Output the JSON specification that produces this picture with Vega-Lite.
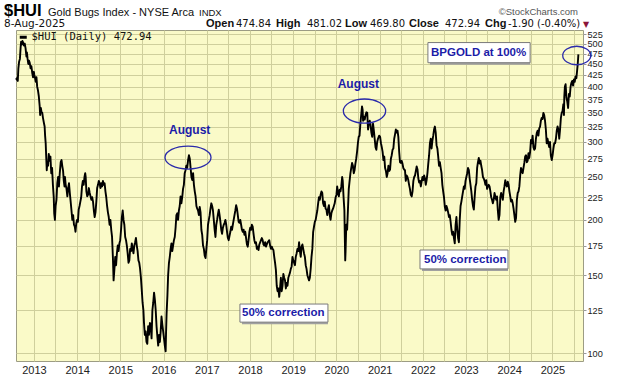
{
  "$schema": "https://vega.github.io/schema/vega-lite/v6.json",
  "autosize": "none",
  "width": 567,
  "height": 331,
  "padding": {"left": 16, "top": 30, "right": 37, "bottom": 15},
  "background": "white",
  "config": {
    "view": {"fill": "#FAFAC8", "stroke": "#9c9c84", "strokeWidth": 1},
    "font": "Liberation Sans"
  },
  "datasets": {
    "one": [{}],
    "hui": [
      {"date":"2012-08-03","close":418},{"date":"2012-08-08","close":415},{"date":"2012-08-13","close":419},{"date":"2012-08-17","close":412},{"date":"2012-08-22","close":440},{"date":"2012-08-28","close":455},{"date":"2012-09-04","close":462},{"date":"2012-09-10","close":490},{"date":"2012-09-14","close":505},{"date":"2012-09-20","close":498},{"date":"2012-09-26","close":507},{"date":"2012-10-02","close":503},{"date":"2012-10-08","close":495},{"date":"2012-10-15","close":500},{"date":"2012-10-22","close":488},{"date":"2012-10-29","close":468},{"date":"2012-11-02","close":478},{"date":"2012-11-08","close":462},{"date":"2012-11-14","close":450},{"date":"2012-11-20","close":458},{"date":"2012-11-26","close":453},{"date":"2012-12-03","close":440},{"date":"2012-12-10","close":445},{"date":"2012-12-17","close":430},{"date":"2012-12-24","close":420},{"date":"2012-12-31","close":432},
      {"date":"2013-01-04","close":425},{"date":"2013-01-10","close":418},{"date":"2013-01-16","close":410},{"date":"2013-01-22","close":420},{"date":"2013-01-28","close":400},{"date":"2013-02-04","close":392},{"date":"2013-02-11","close":380},{"date":"2013-02-18","close":362},{"date":"2013-02-22","close":345},{"date":"2013-02-28","close":358},{"date":"2013-03-06","close":350},{"date":"2013-03-12","close":349},{"date":"2013-03-18","close":340},{"date":"2013-03-25","close":332},{"date":"2013-04-01","close":325},{"date":"2013-04-05","close":310},{"date":"2013-04-10","close":298},{"date":"2013-04-15","close":275},{"date":"2013-04-19","close":259},{"date":"2013-04-24","close":270},{"date":"2013-04-30","close":265},{"date":"2013-05-06","close":282},{"date":"2013-05-13","close":272},{"date":"2013-05-20","close":278},{"date":"2013-05-27","close":255},{"date":"2013-06-03","close":262},{"date":"2013-06-10","close":240},{"date":"2013-06-17","close":225},{"date":"2013-06-21","close":207},{"date":"2013-06-27","close":200},{"date":"2013-07-03","close":215},{"date":"2013-07-10","close":222},{"date":"2013-07-17","close":242},{"date":"2013-07-24","close":250},{"date":"2013-07-31","close":238},{"date":"2013-08-07","close":255},{"date":"2013-08-15","close":270},{"date":"2013-08-22","close":273},{"date":"2013-08-28","close":265},{"date":"2013-09-04","close":258},{"date":"2013-09-10","close":245},{"date":"2013-09-16","close":238},{"date":"2013-09-20","close":250},{"date":"2013-09-26","close":240},{"date":"2013-10-03","close":235},{"date":"2013-10-10","close":226},{"date":"2013-10-17","close":236},{"date":"2013-10-24","close":242},{"date":"2013-10-31","close":230},{"date":"2013-11-07","close":220},{"date":"2013-11-14","close":210},{"date":"2013-11-21","close":200},{"date":"2013-11-28","close":205},{"date":"2013-12-05","close":195},{"date":"2013-12-12","close":193},{"date":"2013-12-18","close":188},{"date":"2013-12-24","close":196},{"date":"2013-12-31","close":200},
      {"date":"2014-01-07","close":198},{"date":"2014-01-14","close":211},{"date":"2014-01-21","close":215},{"date":"2014-01-28","close":220},{"date":"2014-02-04","close":225},{"date":"2014-02-11","close":238},{"date":"2014-02-18","close":245},{"date":"2014-02-25","close":240},{"date":"2014-03-04","close":250},{"date":"2014-03-10","close":255},{"date":"2014-03-14","close":250},{"date":"2014-03-20","close":232},{"date":"2014-03-27","close":226},{"date":"2014-04-03","close":228},{"date":"2014-04-10","close":236},{"date":"2014-04-17","close":230},{"date":"2014-04-24","close":226},{"date":"2014-05-01","close":222},{"date":"2014-05-08","close":225},{"date":"2014-05-15","close":220},{"date":"2014-05-22","close":210},{"date":"2014-05-29","close":203},{"date":"2014-06-05","close":208},{"date":"2014-06-12","close":220},{"date":"2014-06-19","close":236},{"date":"2014-06-26","close":240},{"date":"2014-07-03","close":245},{"date":"2014-07-10","close":242},{"date":"2014-07-17","close":236},{"date":"2014-07-24","close":242},{"date":"2014-07-31","close":238},{"date":"2014-08-07","close":245},{"date":"2014-08-14","close":240},{"date":"2014-08-21","close":242},{"date":"2014-08-28","close":232},{"date":"2014-09-04","close":225},{"date":"2014-09-11","close":215},{"date":"2014-09-18","close":208},{"date":"2014-09-25","close":203},{"date":"2014-10-02","close":195},{"date":"2014-10-09","close":200},{"date":"2014-10-16","close":190},{"date":"2014-10-23","close":183},{"date":"2014-10-30","close":165},{"date":"2014-11-05","close":146},{"date":"2014-11-12","close":155},{"date":"2014-11-19","close":165},{"date":"2014-11-26","close":158},{"date":"2014-12-03","close":168},{"date":"2014-12-10","close":175},{"date":"2014-12-17","close":170},{"date":"2014-12-24","close":177},{"date":"2014-12-31","close":180},
      {"date":"2015-01-07","close":190},{"date":"2015-01-14","close":203},{"date":"2015-01-21","close":210},{"date":"2015-01-28","close":200},{"date":"2015-02-04","close":195},{"date":"2015-02-11","close":183},{"date":"2015-02-18","close":180},{"date":"2015-02-25","close":175},{"date":"2015-03-04","close":168},{"date":"2015-03-11","close":160},{"date":"2015-03-18","close":162},{"date":"2015-03-25","close":172},{"date":"2015-04-01","close":170},{"date":"2015-04-08","close":177},{"date":"2015-04-15","close":172},{"date":"2015-04-22","close":168},{"date":"2015-04-29","close":175},{"date":"2015-05-06","close":178},{"date":"2015-05-13","close":182},{"date":"2015-05-20","close":175},{"date":"2015-05-27","close":170},{"date":"2015-06-03","close":162},{"date":"2015-06-10","close":160},{"date":"2015-06-17","close":155},{"date":"2015-06-24","close":148},{"date":"2015-07-01","close":139},{"date":"2015-07-08","close":130},{"date":"2015-07-15","close":125},{"date":"2015-07-20","close":117},{"date":"2015-07-27","close":110},{"date":"2015-08-03","close":112},{"date":"2015-08-10","close":106},{"date":"2015-08-17","close":105},{"date":"2015-08-24","close":115},{"date":"2015-08-31","close":110},{"date":"2015-09-08","close":117},{"date":"2015-09-15","close":115},{"date":"2015-09-22","close":108},{"date":"2015-09-29","close":125},{"date":"2015-10-06","close":130},{"date":"2015-10-13","close":137},{"date":"2015-10-20","close":132},{"date":"2015-10-27","close":125},{"date":"2015-11-03","close":115},{"date":"2015-11-10","close":109},{"date":"2015-11-17","close":104},{"date":"2015-11-24","close":110},{"date":"2015-12-01","close":106},{"date":"2015-12-08","close":112},{"date":"2015-12-15","close":121},{"date":"2015-12-22","close":116},{"date":"2015-12-29","close":112},
      {"date":"2016-01-05","close":108},{"date":"2016-01-12","close":104},{"date":"2016-01-19","close":101},{"date":"2016-01-22","close":110},{"date":"2016-01-27","close":123},{"date":"2016-02-03","close":135},{"date":"2016-02-09","close":150},{"date":"2016-02-16","close":160},{"date":"2016-02-23","close":165},{"date":"2016-03-01","close":172},{"date":"2016-03-08","close":177},{"date":"2016-03-15","close":170},{"date":"2016-03-22","close":175},{"date":"2016-03-29","close":180},{"date":"2016-04-05","close":183},{"date":"2016-04-12","close":192},{"date":"2016-04-19","close":205},{"date":"2016-04-26","close":207},{"date":"2016-05-03","close":200},{"date":"2016-05-10","close":210},{"date":"2016-05-17","close":215},{"date":"2016-05-24","close":226},{"date":"2016-05-31","close":218},{"date":"2016-06-07","close":225},{"date":"2016-06-14","close":235},{"date":"2016-06-21","close":240},{"date":"2016-06-28","close":255},{"date":"2016-07-05","close":259},{"date":"2016-07-12","close":265},{"date":"2016-07-19","close":262},{"date":"2016-07-26","close":272},{"date":"2016-08-03","close":280},{"date":"2016-08-10","close":275},{"date":"2016-08-17","close":262},{"date":"2016-08-24","close":250},{"date":"2016-08-31","close":246},{"date":"2016-09-07","close":255},{"date":"2016-09-14","close":240},{"date":"2016-09-21","close":232},{"date":"2016-09-28","close":226},{"date":"2016-10-05","close":215},{"date":"2016-10-12","close":212},{"date":"2016-10-19","close":210},{"date":"2016-10-26","close":205},{"date":"2016-11-02","close":214},{"date":"2016-11-09","close":208},{"date":"2016-11-16","close":190},{"date":"2016-11-23","close":185},{"date":"2016-11-30","close":175},{"date":"2016-12-07","close":172},{"date":"2016-12-14","close":166},{"date":"2016-12-21","close":164},{"date":"2016-12-28","close":172},
      {"date":"2017-01-04","close":180},{"date":"2017-01-11","close":195},{"date":"2017-01-18","close":200},{"date":"2017-01-25","close":205},{"date":"2017-02-01","close":212},{"date":"2017-02-08","close":218},{"date":"2017-02-15","close":215},{"date":"2017-02-22","close":210},{"date":"2017-03-01","close":200},{"date":"2017-03-08","close":190},{"date":"2017-03-15","close":183},{"date":"2017-03-22","close":195},{"date":"2017-03-29","close":200},{"date":"2017-04-05","close":206},{"date":"2017-04-12","close":211},{"date":"2017-04-19","close":205},{"date":"2017-04-26","close":198},{"date":"2017-05-03","close":190},{"date":"2017-05-10","close":186},{"date":"2017-05-17","close":192},{"date":"2017-05-24","close":195},{"date":"2017-05-31","close":197},{"date":"2017-06-07","close":200},{"date":"2017-06-14","close":195},{"date":"2017-06-21","close":188},{"date":"2017-06-28","close":182},{"date":"2017-07-05","close":180},{"date":"2017-07-12","close":184},{"date":"2017-07-19","close":188},{"date":"2017-07-26","close":193},{"date":"2017-08-02","close":190},{"date":"2017-08-09","close":195},{"date":"2017-08-16","close":200},{"date":"2017-08-23","close":205},{"date":"2017-08-30","close":210},{"date":"2017-09-06","close":216},{"date":"2017-09-13","close":212},{"date":"2017-09-20","close":205},{"date":"2017-09-27","close":198},{"date":"2017-10-04","close":197},{"date":"2017-10-11","close":200},{"date":"2017-10-18","close":195},{"date":"2017-10-25","close":190},{"date":"2017-11-01","close":188},{"date":"2017-11-08","close":190},{"date":"2017-11-15","close":185},{"date":"2017-11-22","close":188},{"date":"2017-11-29","close":182},{"date":"2017-12-06","close":176},{"date":"2017-12-13","close":174},{"date":"2017-12-20","close":180},{"date":"2017-12-27","close":188},
      {"date":"2018-01-03","close":192},{"date":"2018-01-10","close":190},{"date":"2018-01-17","close":195},{"date":"2018-01-24","close":193},{"date":"2018-01-31","close":186},{"date":"2018-02-07","close":180},{"date":"2018-02-14","close":177},{"date":"2018-02-21","close":178},{"date":"2018-02-28","close":172},{"date":"2018-03-07","close":174},{"date":"2018-03-14","close":171},{"date":"2018-03-21","close":176},{"date":"2018-03-28","close":178},{"date":"2018-04-04","close":180},{"date":"2018-04-11","close":182},{"date":"2018-04-18","close":180},{"date":"2018-04-25","close":176},{"date":"2018-05-02","close":175},{"date":"2018-05-09","close":178},{"date":"2018-05-16","close":174},{"date":"2018-05-23","close":176},{"date":"2018-05-30","close":178},{"date":"2018-06-06","close":179},{"date":"2018-06-13","close":180},{"date":"2018-06-20","close":175},{"date":"2018-06-27","close":172},{"date":"2018-07-04","close":174},{"date":"2018-07-11","close":172},{"date":"2018-07-18","close":171},{"date":"2018-07-25","close":165},{"date":"2018-08-01","close":160},{"date":"2018-08-08","close":154},{"date":"2018-08-15","close":142},{"date":"2018-08-22","close":138},{"date":"2018-08-29","close":140},{"date":"2018-09-05","close":134},{"date":"2018-09-12","close":140},{"date":"2018-09-19","close":148},{"date":"2018-09-26","close":138},{"date":"2018-10-03","close":142},{"date":"2018-10-10","close":151},{"date":"2018-10-17","close":148},{"date":"2018-10-24","close":146},{"date":"2018-10-31","close":140},{"date":"2018-11-07","close":144},{"date":"2018-11-14","close":142},{"date":"2018-11-21","close":148},{"date":"2018-11-28","close":150},{"date":"2018-12-05","close":152},{"date":"2018-12-12","close":155},{"date":"2018-12-19","close":157},{"date":"2018-12-26","close":165},
      {"date":"2019-01-02","close":162},{"date":"2019-01-09","close":160},{"date":"2019-01-16","close":158},{"date":"2019-01-23","close":165},{"date":"2019-01-30","close":168},{"date":"2019-02-06","close":172},{"date":"2019-02-13","close":170},{"date":"2019-02-20","close":178},{"date":"2019-02-27","close":170},{"date":"2019-03-06","close":165},{"date":"2019-03-13","close":174},{"date":"2019-03-20","close":176},{"date":"2019-03-27","close":172},{"date":"2019-04-03","close":168},{"date":"2019-04-10","close":165},{"date":"2019-04-17","close":158},{"date":"2019-04-24","close":155},{"date":"2019-05-01","close":150},{"date":"2019-05-08","close":148},{"date":"2019-05-15","close":146},{"date":"2019-05-22","close":148},{"date":"2019-05-29","close":155},{"date":"2019-06-05","close":165},{"date":"2019-06-12","close":172},{"date":"2019-06-19","close":188},{"date":"2019-06-26","close":193},{"date":"2019-07-03","close":198},{"date":"2019-07-10","close":200},{"date":"2019-07-17","close":205},{"date":"2019-07-24","close":210},{"date":"2019-07-31","close":218},{"date":"2019-08-07","close":225},{"date":"2019-08-14","close":222},{"date":"2019-08-21","close":228},{"date":"2019-08-28","close":232},{"date":"2019-09-04","close":230},{"date":"2019-09-11","close":218},{"date":"2019-09-18","close":215},{"date":"2019-09-25","close":220},{"date":"2019-10-02","close":212},{"date":"2019-10-09","close":211},{"date":"2019-10-16","close":205},{"date":"2019-10-23","close":212},{"date":"2019-10-30","close":216},{"date":"2019-11-06","close":205},{"date":"2019-11-13","close":200},{"date":"2019-11-20","close":207},{"date":"2019-11-27","close":210},{"date":"2019-12-04","close":212},{"date":"2019-12-11","close":215},{"date":"2019-12-18","close":218},{"date":"2019-12-26","close":225},
      {"date":"2020-01-02","close":228},{"date":"2020-01-08","close":238},{"date":"2020-01-15","close":230},{"date":"2020-01-22","close":226},{"date":"2020-01-29","close":234},{"date":"2020-02-05","close":232},{"date":"2020-02-12","close":238},{"date":"2020-02-19","close":250},{"date":"2020-02-24","close":245},{"date":"2020-03-02","close":225},{"date":"2020-03-09","close":210},{"date":"2020-03-13","close":180},{"date":"2020-03-16","close":162},{"date":"2020-03-19","close":170},{"date":"2020-03-25","close":195},{"date":"2020-04-01","close":190},{"date":"2020-04-08","close":211},{"date":"2020-04-15","close":235},{"date":"2020-04-22","close":245},{"date":"2020-04-29","close":255},{"date":"2020-05-06","close":262},{"date":"2020-05-13","close":269},{"date":"2020-05-20","close":265},{"date":"2020-05-27","close":255},{"date":"2020-06-03","close":259},{"date":"2020-06-10","close":268},{"date":"2020-06-17","close":275},{"date":"2020-06-24","close":285},{"date":"2020-07-01","close":298},{"date":"2020-07-08","close":308},{"date":"2020-07-15","close":310},{"date":"2020-07-22","close":330},{"date":"2020-07-29","close":345},{"date":"2020-08-05","close":361},{"date":"2020-08-10","close":355},{"date":"2020-08-14","close":335},{"date":"2020-08-21","close":342},{"date":"2020-08-28","close":337},{"date":"2020-09-04","close":345},{"date":"2020-09-11","close":350},{"date":"2020-09-18","close":349},{"date":"2020-09-25","close":320},{"date":"2020-10-02","close":330},{"date":"2020-10-09","close":335},{"date":"2020-10-16","close":328},{"date":"2020-10-23","close":315},{"date":"2020-10-30","close":308},{"date":"2020-11-06","close":330},{"date":"2020-11-13","close":318},{"date":"2020-11-20","close":305},{"date":"2020-11-27","close":292},{"date":"2020-12-04","close":288},{"date":"2020-12-11","close":300},{"date":"2020-12-18","close":305},{"date":"2020-12-28","close":310},
      {"date":"2021-01-05","close":308},{"date":"2021-01-12","close":298},{"date":"2021-01-19","close":292},{"date":"2021-01-26","close":285},{"date":"2021-02-02","close":273},{"date":"2021-02-09","close":278},{"date":"2021-02-16","close":262},{"date":"2021-02-23","close":258},{"date":"2021-03-02","close":250},{"date":"2021-03-09","close":255},{"date":"2021-03-16","close":265},{"date":"2021-03-23","close":258},{"date":"2021-03-30","close":260},{"date":"2021-04-06","close":275},{"date":"2021-04-13","close":280},{"date":"2021-04-20","close":288},{"date":"2021-04-27","close":290},{"date":"2021-05-04","close":305},{"date":"2021-05-11","close":312},{"date":"2021-05-18","close":320},{"date":"2021-05-25","close":315},{"date":"2021-06-01","close":318},{"date":"2021-06-08","close":308},{"date":"2021-06-15","close":285},{"date":"2021-06-22","close":270},{"date":"2021-06-29","close":269},{"date":"2021-07-06","close":272},{"date":"2021-07-13","close":268},{"date":"2021-07-20","close":262},{"date":"2021-07-27","close":260},{"date":"2021-08-03","close":259},{"date":"2021-08-10","close":245},{"date":"2021-08-17","close":252},{"date":"2021-08-24","close":250},{"date":"2021-08-31","close":246},{"date":"2021-09-07","close":240},{"date":"2021-09-14","close":235},{"date":"2021-09-21","close":228},{"date":"2021-09-29","close":226},{"date":"2021-10-06","close":232},{"date":"2021-10-13","close":245},{"date":"2021-10-20","close":250},{"date":"2021-10-27","close":252},{"date":"2021-11-03","close":258},{"date":"2021-11-10","close":264},{"date":"2021-11-17","close":260},{"date":"2021-11-24","close":248},{"date":"2021-12-01","close":243},{"date":"2021-12-08","close":245},{"date":"2021-12-15","close":238},{"date":"2021-12-22","close":244},{"date":"2021-12-29","close":250},
      {"date":"2022-01-05","close":246},{"date":"2022-01-12","close":252},{"date":"2022-01-19","close":248},{"date":"2022-01-26","close":240},{"date":"2022-02-02","close":246},{"date":"2022-02-09","close":255},{"date":"2022-02-16","close":268},{"date":"2022-02-23","close":280},{"date":"2022-03-02","close":298},{"date":"2022-03-09","close":305},{"date":"2022-03-16","close":290},{"date":"2022-03-23","close":302},{"date":"2022-03-30","close":310},{"date":"2022-04-06","close":320},{"date":"2022-04-13","close":325},{"date":"2022-04-20","close":315},{"date":"2022-04-27","close":295},{"date":"2022-05-04","close":290},{"date":"2022-05-11","close":278},{"date":"2022-05-18","close":265},{"date":"2022-05-25","close":270},{"date":"2022-06-01","close":262},{"date":"2022-06-08","close":255},{"date":"2022-06-15","close":240},{"date":"2022-06-22","close":232},{"date":"2022-06-29","close":225},{"date":"2022-07-06","close":214},{"date":"2022-07-13","close":210},{"date":"2022-07-20","close":215},{"date":"2022-07-27","close":212},{"date":"2022-08-03","close":208},{"date":"2022-08-10","close":203},{"date":"2022-08-17","close":205},{"date":"2022-08-24","close":198},{"date":"2022-08-31","close":190},{"date":"2022-09-07","close":185},{"date":"2022-09-14","close":188},{"date":"2022-09-21","close":182},{"date":"2022-09-28","close":177},{"date":"2022-10-05","close":195},{"date":"2022-10-12","close":203},{"date":"2022-10-19","close":190},{"date":"2022-10-26","close":182},{"date":"2022-11-02","close":178},{"date":"2022-11-09","close":200},{"date":"2022-11-16","close":215},{"date":"2022-11-23","close":220},{"date":"2022-11-30","close":226},{"date":"2022-12-07","close":232},{"date":"2022-12-14","close":238},{"date":"2022-12-21","close":235},{"date":"2022-12-28","close":245},
      {"date":"2023-01-04","close":250},{"date":"2023-01-11","close":255},{"date":"2023-01-18","close":262},{"date":"2023-01-25","close":259},{"date":"2023-02-01","close":248},{"date":"2023-02-08","close":240},{"date":"2023-02-15","close":232},{"date":"2023-02-22","close":222},{"date":"2023-03-01","close":215},{"date":"2023-03-08","close":211},{"date":"2023-03-15","close":225},{"date":"2023-03-22","close":238},{"date":"2023-03-29","close":242},{"date":"2023-04-05","close":262},{"date":"2023-04-12","close":270},{"date":"2023-04-19","close":276},{"date":"2023-04-26","close":268},{"date":"2023-05-03","close":272},{"date":"2023-05-10","close":265},{"date":"2023-05-17","close":259},{"date":"2023-05-24","close":250},{"date":"2023-05-31","close":248},{"date":"2023-06-07","close":245},{"date":"2023-06-14","close":240},{"date":"2023-06-21","close":246},{"date":"2023-06-28","close":235},{"date":"2023-07-05","close":238},{"date":"2023-07-12","close":240},{"date":"2023-07-19","close":238},{"date":"2023-07-26","close":232},{"date":"2023-08-02","close":225},{"date":"2023-08-09","close":222},{"date":"2023-08-16","close":218},{"date":"2023-08-23","close":222},{"date":"2023-08-30","close":230},{"date":"2023-09-06","close":226},{"date":"2023-09-13","close":222},{"date":"2023-09-20","close":226},{"date":"2023-09-27","close":210},{"date":"2023-10-04","close":200},{"date":"2023-10-11","close":205},{"date":"2023-10-18","close":225},{"date":"2023-10-25","close":230},{"date":"2023-11-01","close":226},{"date":"2023-11-08","close":222},{"date":"2023-11-15","close":232},{"date":"2023-11-22","close":238},{"date":"2023-11-29","close":246},{"date":"2023-12-06","close":240},{"date":"2023-12-13","close":238},{"date":"2023-12-20","close":244},{"date":"2023-12-27","close":240},
      {"date":"2024-01-03","close":232},{"date":"2024-01-10","close":226},{"date":"2024-01-17","close":220},{"date":"2024-01-24","close":222},{"date":"2024-01-31","close":218},{"date":"2024-02-07","close":212},{"date":"2024-02-14","close":205},{"date":"2024-02-21","close":198},{"date":"2024-02-28","close":202},{"date":"2024-03-06","close":222},{"date":"2024-03-13","close":230},{"date":"2024-03-20","close":232},{"date":"2024-03-27","close":238},{"date":"2024-04-03","close":252},{"date":"2024-04-10","close":262},{"date":"2024-04-17","close":259},{"date":"2024-04-24","close":255},{"date":"2024-05-01","close":262},{"date":"2024-05-08","close":269},{"date":"2024-05-15","close":278},{"date":"2024-05-22","close":280},{"date":"2024-05-29","close":270},{"date":"2024-06-05","close":272},{"date":"2024-06-12","close":283},{"date":"2024-06-19","close":276},{"date":"2024-06-26","close":285},{"date":"2024-07-03","close":303},{"date":"2024-07-10","close":298},{"date":"2024-07-17","close":310},{"date":"2024-07-24","close":292},{"date":"2024-07-31","close":288},{"date":"2024-08-07","close":290},{"date":"2024-08-14","close":305},{"date":"2024-08-21","close":314},{"date":"2024-08-28","close":318},{"date":"2024-09-04","close":310},{"date":"2024-09-11","close":322},{"date":"2024-09-18","close":325},{"date":"2024-09-25","close":335},{"date":"2024-10-02","close":340},{"date":"2024-10-09","close":338},{"date":"2024-10-16","close":349},{"date":"2024-10-23","close":345},{"date":"2024-10-30","close":335},{"date":"2024-11-06","close":320},{"date":"2024-11-13","close":298},{"date":"2024-11-20","close":305},{"date":"2024-11-27","close":298},{"date":"2024-12-04","close":292},{"date":"2024-12-11","close":300},{"date":"2024-12-18","close":280},{"date":"2024-12-26","close":273},
      {"date":"2025-01-02","close":280},{"date":"2025-01-09","close":290},{"date":"2025-01-16","close":298},{"date":"2025-01-23","close":298},{"date":"2025-01-30","close":305},{"date":"2025-02-06","close":318},{"date":"2025-02-13","close":325},{"date":"2025-02-20","close":320},{"date":"2025-02-27","close":305},{"date":"2025-03-06","close":320},{"date":"2025-03-13","close":340},{"date":"2025-03-20","close":349},{"date":"2025-03-27","close":352},{"date":"2025-04-03","close":365},{"date":"2025-04-08","close":345},{"date":"2025-04-11","close":380},{"date":"2025-04-16","close":400},{"date":"2025-04-22","close":405},{"date":"2025-04-29","close":378},{"date":"2025-05-06","close":370},{"date":"2025-05-13","close":358},{"date":"2025-05-20","close":385},{"date":"2025-05-27","close":380},{"date":"2025-06-03","close":400},{"date":"2025-06-10","close":408},{"date":"2025-06-17","close":412},{"date":"2025-06-24","close":402},{"date":"2025-07-01","close":415},{"date":"2025-07-08","close":410},{"date":"2025-07-15","close":422},{"date":"2025-07-22","close":418},{"date":"2025-07-29","close":437},{"date":"2025-08-01","close":445},{"date":"2025-08-05","close":460},{"date":"2025-08-08","close":472.94}
    ],
    "august": [
      {"date":"2016-08-09","value":320,"label":"August"},
      {"date":"2020-07-05","value":406,"label":"August"}
    ],
    "boxes": [
      {"start":"2017-10-08","end":"2019-10-22","low":117.5,"high":129.1},
      {"start":"2021-12-08","end":"2023-12-22","low":155,"high":171},
      {"start":"2022-02-13","end":"2024-06-26","low":453,"high":503}
    ],
    "boxnotes": [
      {"date":"2017-10-26","value":123.2,"label":"50% correction"},
      {"date":"2022-01-11","value":162.7,"label":"50% correction"},
      {"date":"2022-03-11","value":477,"label":"BPGOLD at 100%"}
    ]
  },
  "layer": [
    {
      "data": {"name": "hui"},
      "mark": {"type": "line", "strokeWidth": 1.9, "strokeJoin": "round"},
      "encoding": {
        "x": {
          "field": "date", "type": "temporal",
          "scale": {"domain": [{"year": 2012, "month": 8, "date": 2}, {"year": 2025, "month": 9, "date": 16}]},
          "axis": {
            "title": null, "tickCount": {"interval": "month", "step": 6},
            "labelExpr": "month(datum.value) == 0 ? timeFormat(datum.value, '%Y') : ''",
            "grid": true, "gridColor": "#cfcf9c", "ticks": false, "domain": false,
            "labelFont": "Liberation Sans", "labelFontSize": 11, "labelColor": "#222",
            "labelPadding": 3, "labelFlush": false, "labelOverlap": false
          }
        },
        "y": {
          "field": "close", "type": "quantitative",
          "scale": {"type": "log", "domain": [96, 537], "nice": false},
          "axis": {
            "orient": "right", "title": null,
            "values": [100,125,150,175,200,225,250,275,300,325,350,375,400,425,450,475,500,525],
            "format": "d", "grid": true, "gridColor": "#cfcf9c",
            "tickSize": 3, "tickColor": "#999999", "domain": false,
            "labelFont": "Liberation Sans", "labelFontSize": 9.2, "labelColor": "#222",
            "labelPadding": 1, "labelFlush": false, "labelOverlap": false
          }
        },
        "color": {
          "datum": "$HUI (Daily) 472.94",
          "scale": {"range": ["#000000"]},
          "legend": {
            "orient": "top-left", "offset": 2, "padding": 0, "title": null,
            "symbolType": "stroke", "symbolStrokeWidth": 3, "symbolSize": 49,
            "labelFont": "DejaVu Sans Mono", "labelFontSize": 10.5, "labelColor": "#111",
            "labelOffset": 3
          }
        }
      }
    },
    {
      "data": {"name": "one"},
      "mark": {"type": "point", "shape": "M-1,0A1,0.5,0,1,1,1,0A1,0.5,0,1,1,-1,0Z", "size": 2116, "filled": false, "stroke": "#2a2aaa", "strokeWidth": 1.3, "opacity": 1},
      "encoding": {"x": {"datum": {"year": 2016, "month": 7, "date": 26}, "type": "temporal"}, "y": {"datum": 276.6, "type": "quantitative"}}
    },
    {
      "data": {"name": "one"},
      "mark": {"type": "point", "shape": "M-1,0A1,0.57,0,1,1,1,0A1,0.57,0,1,1,-1,0Z", "size": 1790, "filled": false, "stroke": "#2a2aaa", "strokeWidth": 1.3, "opacity": 1},
      "encoding": {"x": {"datum": {"year": 2020, "month": 8, "date": 26}, "type": "temporal"}, "y": {"datum": 352.3, "type": "quantitative"}}
    },
    {
      "data": {"name": "one"},
      "mark": {"type": "point", "shape": "M-1,0A1,0.66,0,1,1,1,0A1,0.66,0,1,1,-1,0Z", "size": 784, "filled": false, "stroke": "#2a2aaa", "strokeWidth": 1.3, "opacity": 1},
      "encoding": {"x": {"datum": {"year": 2025, "month": 7, "date": 25}, "type": "temporal"}, "y": {"datum": 470.3, "type": "quantitative"}}
    },
    {
      "data": {"name": "august"},
      "mark": {"type": "text", "font": "Liberation Sans", "fontWeight": "bold", "fontSize": 12, "color": "#1c1ca8", "align": "center", "baseline": "middle"},
      "encoding": {"x": {"field": "date", "type": "temporal"}, "y": {"field": "value", "type": "quantitative"}, "text": {"field": "label"}}
    },
    {
      "data": {"name": "boxes"},
      "mark": {"type": "rect", "fill": "#a0a0a0", "xOffset": 2, "yOffset": 2},
      "encoding": {"x": {"field": "start", "type": "temporal"}, "x2": {"field": "end"}, "y": {"field": "low", "type": "quantitative"}, "y2": {"field": "high"}}
    },
    {
      "data": {"name": "boxes"},
      "mark": {"type": "rect", "fill": "#ffffff", "stroke": "#7a7a7a", "strokeWidth": 1},
      "encoding": {"x": {"field": "start", "type": "temporal"}, "x2": {"field": "end"}, "y": {"field": "low", "type": "quantitative"}, "y2": {"field": "high"}}
    },
    {
      "data": {"name": "boxnotes"},
      "mark": {"type": "text", "font": "Liberation Sans", "fontWeight": "bold", "fontSize": 11.5, "color": "#1c1ca8", "align": "left", "baseline": "middle"},
      "encoding": {"x": {"field": "date", "type": "temporal"}, "y": {"field": "value", "type": "quantitative"}, "text": {"field": "label"}}
    },
    {"data": {"name": "one"}, "mark": {"type": "text", "text": "$HUI", "font": "Liberation Sans", "fontWeight": "bold", "fontSize": 16.5, "color": "#000", "align": "left", "baseline": "alphabetic", "dx": -12, "dy": -14.5},
     "encoding": {"x": {"datum": {"year": 2012, "month": 8, "date": 2}, "type": "temporal"}, "y": {"datum": 537, "type": "quantitative"}}},
    {"data": {"name": "one"}, "mark": {"type": "text", "text": "Gold Bugs Index - NYSE Arca", "font": "Liberation Sans", "fontSize": 11, "color": "#111", "align": "left", "baseline": "alphabetic", "dx": 32, "dy": -14.5},
     "encoding": {"x": {"datum": {"year": 2012, "month": 8, "date": 2}, "type": "temporal"}, "y": {"datum": 537, "type": "quantitative"}}},
    {"data": {"name": "one"}, "mark": {"type": "text", "text": "INDX", "font": "Liberation Sans", "fontSize": 9.5, "color": "#111", "align": "left", "baseline": "alphabetic", "dx": 183, "dy": -14.5},
     "encoding": {"x": {"datum": {"year": 2012, "month": 8, "date": 2}, "type": "temporal"}, "y": {"datum": 537, "type": "quantitative"}}},
    {"data": {"name": "one"}, "mark": {"type": "text", "text": "©StockCharts.com", "font": "Liberation Sans", "fontSize": 9.5, "color": "#555", "align": "right", "baseline": "alphabetic", "dx": -5, "dy": -15.5},
     "encoding": {"x": {"datum": {"year": 2025, "month": 9, "date": 16}, "type": "temporal"}, "y": {"datum": 537, "type": "quantitative"}}},
    {"data": {"name": "one"}, "mark": {"type": "text", "text": "8-Aug-2025", "font": "DejaVu Sans", "fontSize": 10.5, "color": "#111", "align": "left", "baseline": "alphabetic", "dx": -12, "dy": -2.6},
     "encoding": {"x": {"datum": {"year": 2012, "month": 8, "date": 2}, "type": "temporal"}, "y": {"datum": 537, "type": "quantitative"}}},
    {"data": {"name": "one"}, "mark": {"type": "text", "text": "Open", "font": "Liberation Sans", "fontWeight": "bold", "fontSize": 11, "color": "#111", "align": "left", "baseline": "alphabetic", "dx": 190, "dy": -2.6},
     "encoding": {"x": {"datum": {"year": 2012, "month": 8, "date": 2}, "type": "temporal"}, "y": {"datum": 537, "type": "quantitative"}}},
    {"data": {"name": "one"}, "mark": {"type": "text", "text": "474.84", "font": "DejaVu Sans", "fontSize": 10, "color": "#111", "align": "left", "baseline": "alphabetic", "dx": 220, "dy": -2.6},
     "encoding": {"x": {"datum": {"year": 2012, "month": 8, "date": 2}, "type": "temporal"}, "y": {"datum": 537, "type": "quantitative"}}},
    {"data": {"name": "one"}, "mark": {"type": "text", "text": "High", "font": "Liberation Sans", "fontWeight": "bold", "fontSize": 11, "color": "#111", "align": "left", "baseline": "alphabetic", "dx": 260, "dy": -2.6},
     "encoding": {"x": {"datum": {"year": 2012, "month": 8, "date": 2}, "type": "temporal"}, "y": {"datum": 537, "type": "quantitative"}}},
    {"data": {"name": "one"}, "mark": {"type": "text", "text": "481.02", "font": "DejaVu Sans", "fontSize": 10, "color": "#111", "align": "left", "baseline": "alphabetic", "dx": 291, "dy": -2.6},
     "encoding": {"x": {"datum": {"year": 2012, "month": 8, "date": 2}, "type": "temporal"}, "y": {"datum": 537, "type": "quantitative"}}},
    {"data": {"name": "one"}, "mark": {"type": "text", "text": "Low", "font": "Liberation Sans", "fontWeight": "bold", "fontSize": 11, "color": "#111", "align": "left", "baseline": "alphabetic", "dx": 329, "dy": -2.6},
     "encoding": {"x": {"datum": {"year": 2012, "month": 8, "date": 2}, "type": "temporal"}, "y": {"datum": 537, "type": "quantitative"}}},
    {"data": {"name": "one"}, "mark": {"type": "text", "text": "469.80", "font": "DejaVu Sans", "fontSize": 10, "color": "#111", "align": "left", "baseline": "alphabetic", "dx": 354, "dy": -2.6},
     "encoding": {"x": {"datum": {"year": 2012, "month": 8, "date": 2}, "type": "temporal"}, "y": {"datum": 537, "type": "quantitative"}}},
    {"data": {"name": "one"}, "mark": {"type": "text", "text": "Close", "font": "Liberation Sans", "fontWeight": "bold", "fontSize": 11, "color": "#111", "align": "left", "baseline": "alphabetic", "dx": 393, "dy": -2.6},
     "encoding": {"x": {"datum": {"year": 2012, "month": 8, "date": 2}, "type": "temporal"}, "y": {"datum": 537, "type": "quantitative"}}},
    {"data": {"name": "one"}, "mark": {"type": "text", "text": "472.94", "font": "DejaVu Sans", "fontSize": 10, "color": "#111", "align": "left", "baseline": "alphabetic", "dx": 429, "dy": -2.6},
     "encoding": {"x": {"datum": {"year": 2012, "month": 8, "date": 2}, "type": "temporal"}, "y": {"datum": 537, "type": "quantitative"}}},
    {"data": {"name": "one"}, "mark": {"type": "text", "text": "Chg", "font": "Liberation Sans", "fontWeight": "bold", "fontSize": 11, "color": "#111", "align": "left", "baseline": "alphabetic", "dx": 469, "dy": -2.6},
     "encoding": {"x": {"datum": {"year": 2012, "month": 8, "date": 2}, "type": "temporal"}, "y": {"datum": 537, "type": "quantitative"}}},
    {"data": {"name": "one"}, "mark": {"type": "text", "text": "-1.90 (-0.40%)", "font": "DejaVu Sans", "fontSize": 10, "color": "#111", "align": "left", "baseline": "alphabetic", "dx": 492, "dy": -2.6},
     "encoding": {"x": {"datum": {"year": 2012, "month": 8, "date": 2}, "type": "temporal"}, "y": {"datum": 537, "type": "quantitative"}}},
    {"data": {"name": "one"}, "mark": {"type": "text", "text": "▼", "font": "DejaVu Sans", "fontSize": 8, "color": "#8b1538", "align": "left", "baseline": "alphabetic", "dx": 0, "dy": -3.5},
     "encoding": {"x": {"datum": {"year": 2025, "month": 9, "date": 16}, "type": "temporal"}, "y": {"datum": 537, "type": "quantitative"}}}
  ]
}
